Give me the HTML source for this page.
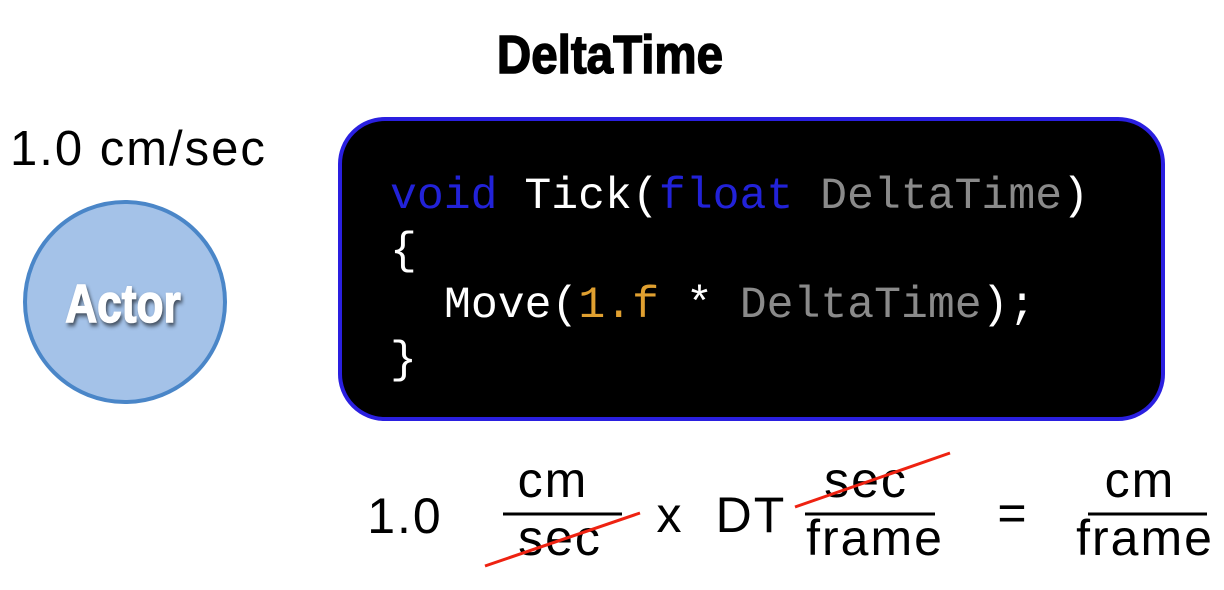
<!DOCTYPE html>
<html><head><meta charset="utf-8"><style>
html,body{margin:0;padding:0;background:#fff;}
svg{display:block;}
</style></head><body>
<svg width="1224" height="590" viewBox="0 0 1224 590" xmlns="http://www.w3.org/2000/svg">
<text x="610" y="73" text-anchor="middle" font-family="Liberation Sans, sans-serif" font-weight="bold" font-size="54" stroke="#000" stroke-width="1.5" transform="translate(610 0) scale(0.88 1) translate(-610 0)" fill="#000">DeltaTime</text>
<text x="10" y="165" font-family="Liberation Sans, sans-serif" font-size="49" letter-spacing="2" fill="#000">1.0 cm/sec</text>
<circle cx="125" cy="302" r="100" fill="#a4c2e8" stroke="#4a86c8" stroke-width="4"/>
<text x="123" y="322" text-anchor="middle" font-family="Liberation Sans, sans-serif" font-weight="bold" font-size="54" fill="#fff" stroke="#fff" stroke-width="1.5" transform="translate(123 0) scale(0.82 1) translate(-123 0)" style="filter:drop-shadow(2px 3px 2px rgba(0,0,0,0.6))">Actor</text>
<rect x="340" y="119" width="823" height="300" rx="45" fill="#000" stroke="#2a1fe0" stroke-width="4"/>
<g font-family="Liberation Mono, monospace" font-size="44.8" fill="#fff">
<text x="390" y="208"><tspan fill="#2222d8">void</tspan> Tick(<tspan fill="#2222d8">float</tspan> <tspan fill="#8a8a8a">DeltaTime</tspan>)</text>
<text x="390" y="263">{</text>
<text x="444" y="317">Move(<tspan fill="#e0a030">1.f</tspan> * <tspan fill="#8a8a8a">DeltaTime</tspan>);</text>
<text x="390" y="372">}</text>
</g>
<g font-family="Liberation Sans, sans-serif" font-size="50" letter-spacing="2" fill="#000" text-anchor="middle">
<text x="405" y="533">1.0</text>
<text x="553" y="497">cm</text>
<text x="560" y="555">sec</text>
<text x="670" y="532">x</text>
<text x="751" y="532">DT</text>
<text x="866" y="497">sec</text>
<text x="875" y="555">frame</text>
<text x="1013" y="530">=</text>
<text x="1140" y="497">cm</text>
<text x="1145" y="555">frame</text>
</g>
<g stroke="#000" stroke-width="3">
<line x1="503" y1="514" x2="622" y2="514"/>
<line x1="805" y1="514" x2="935" y2="514"/>
<line x1="1088" y1="514" x2="1207" y2="514"/>
</g>
<g stroke="#ee2211" stroke-width="3">
<line x1="485" y1="566" x2="640" y2="513"/>
<line x1="795" y1="507" x2="950" y2="453"/>
</g>
</svg>
</body></html>
